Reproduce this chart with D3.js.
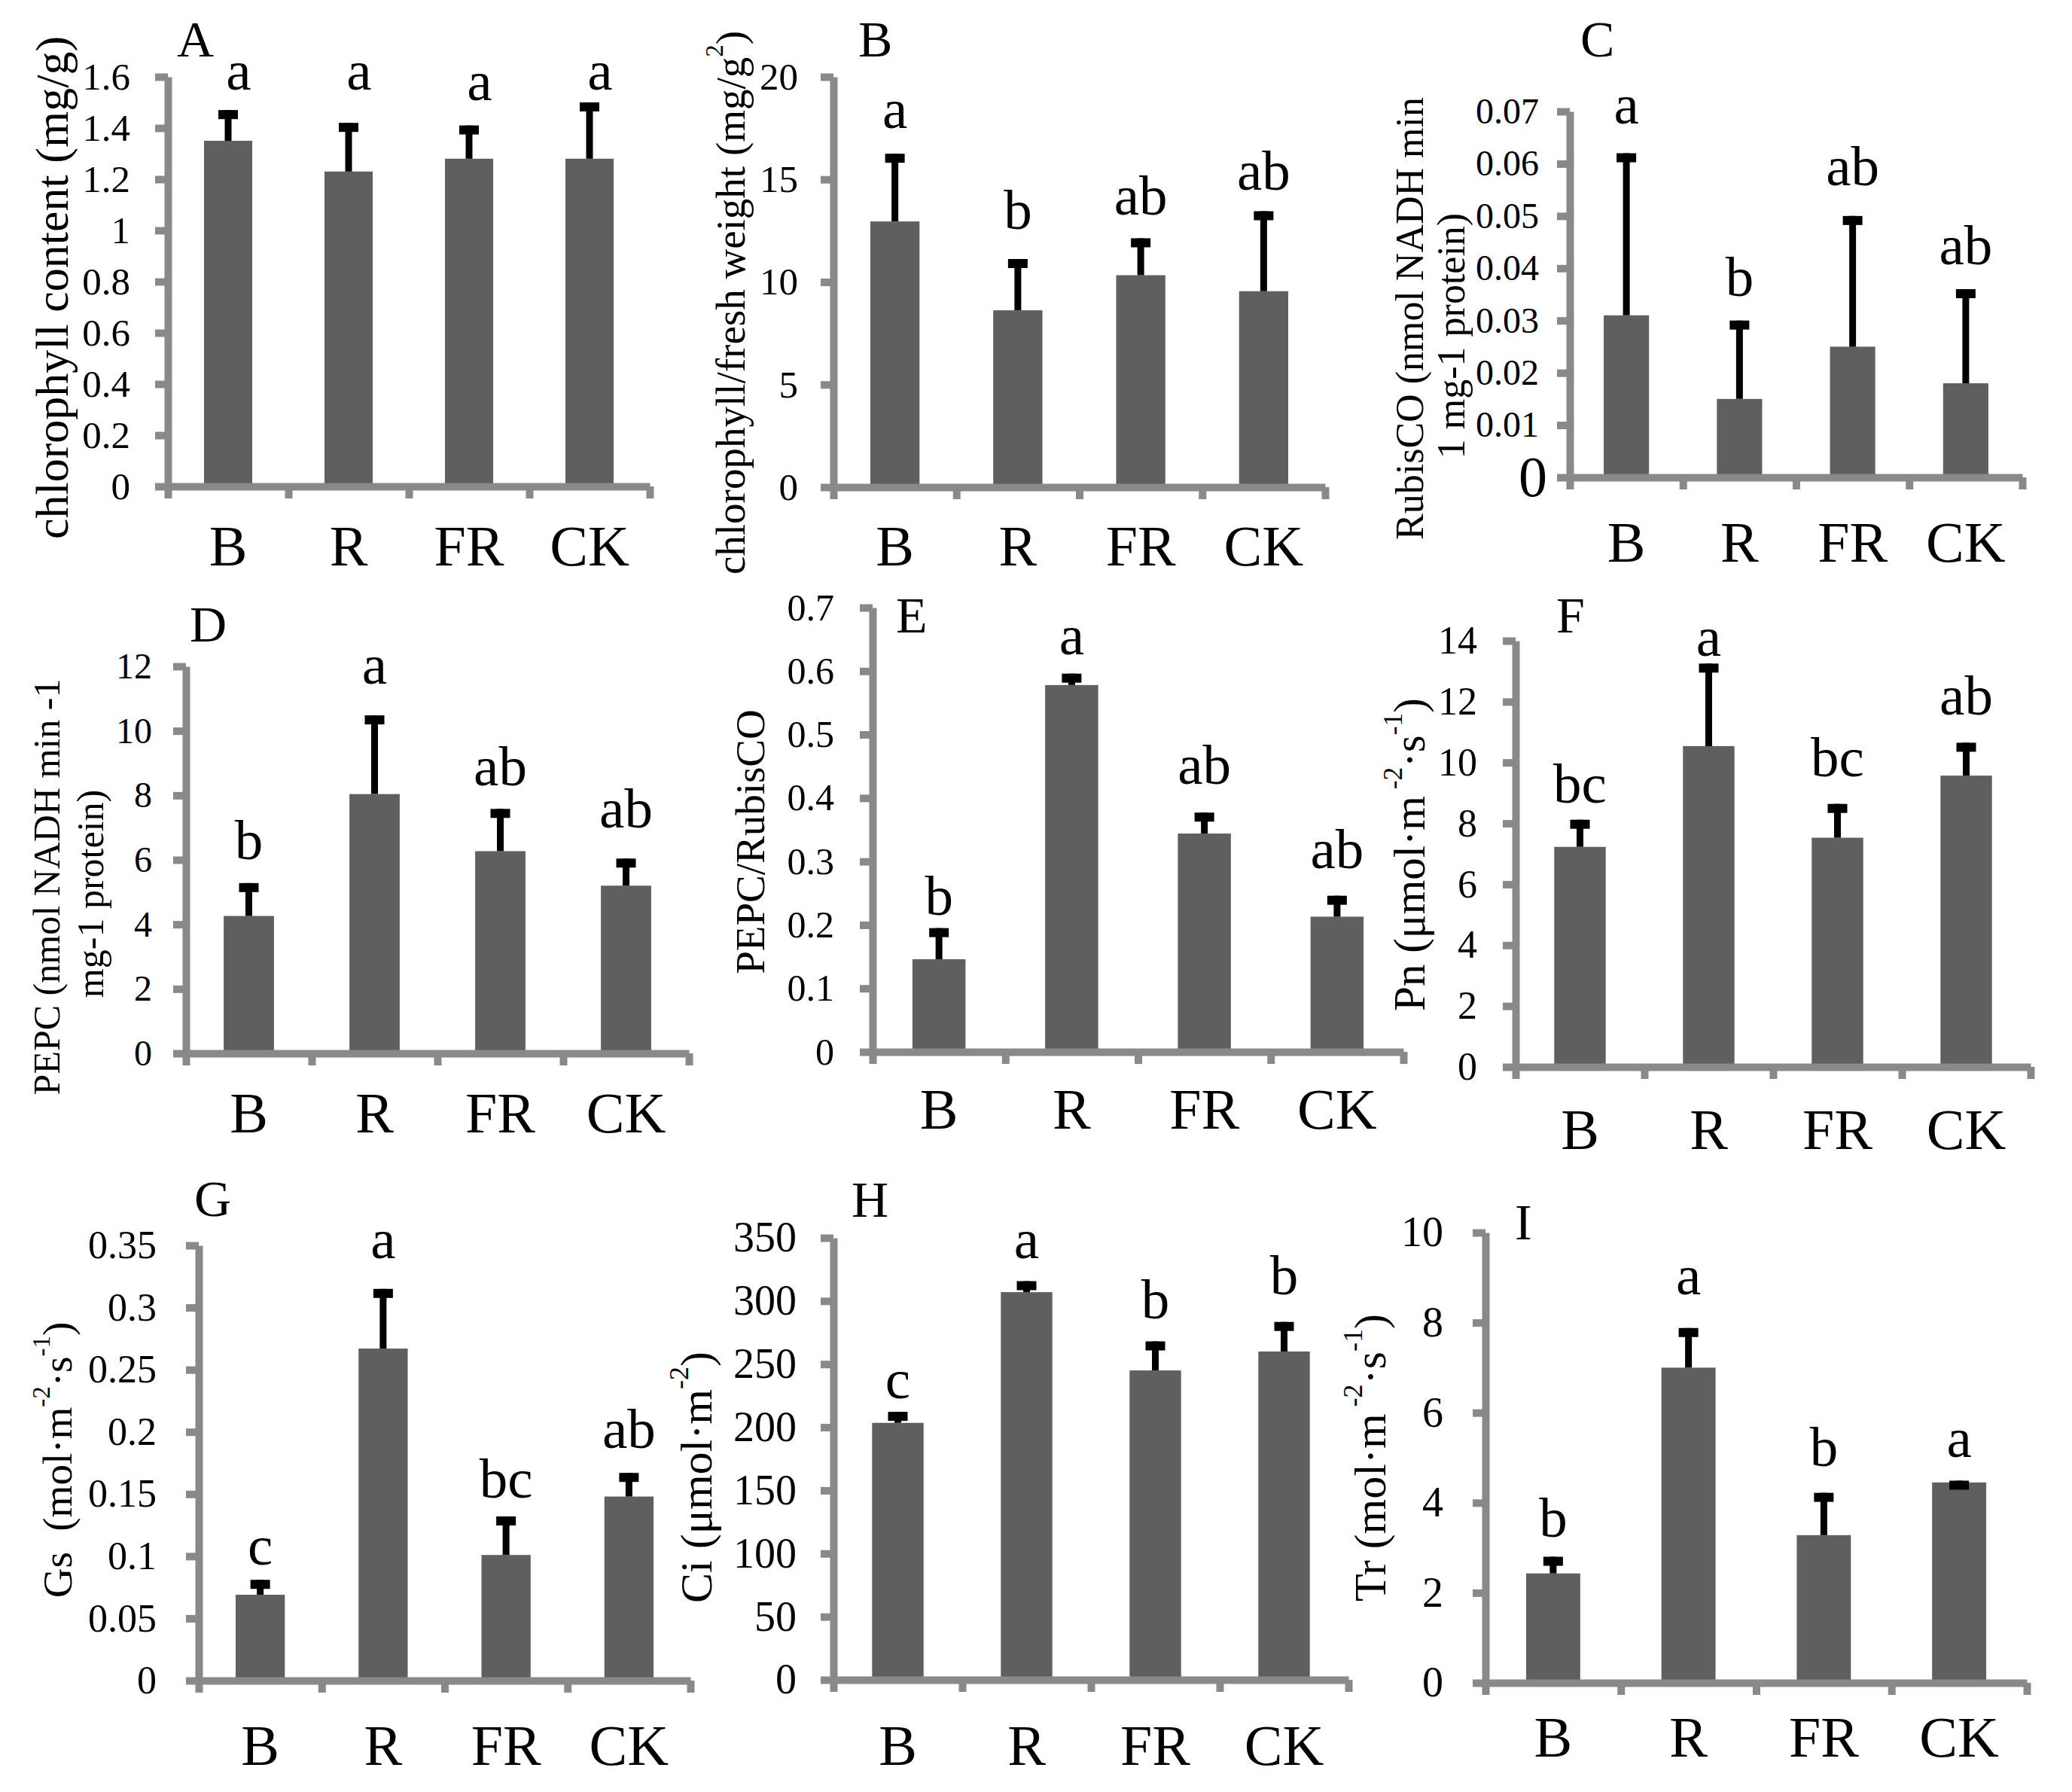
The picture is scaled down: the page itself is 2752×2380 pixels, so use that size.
<!DOCTYPE html>
<html>
<head>
<meta charset="utf-8">
<script src="https://cdn.jsdelivr.net/npm/d3@7"></script>
<style>
  body { margin: 0; background: #fff; }
</style>
</head>
<body>
<script>
var categories = ["B", "R", "FR", "CK"];

// A  chlorophyll content
var chlMean  = [1.35, 1.23, 1.28, 1.28];
var chlErr   = [0.12, 0.19, 0.13, 0.22];
var chlSig   = ["a", "a", "a", "a"];
var chlSigAt = [1.55, 1.55, 1.51, 1.55];

// B  chlorophyll / fresh weight
var fwMean  = [12.95, 8.62, 10.33, 9.55];
var fwErr   = [3.3, 2.5, 1.8, 3.9];
var fwSig   = ["a", "b", "ab", "ab"];
var fwSigAt = [17.5, 12.6, 13.3, 14.5];

// C  RubisCO
var rubMean  = [0.031, 0.015, 0.025, 0.018];
var rubErr   = [0.031, 0.015, 0.025, 0.018];
var rubSig   = ["a", "b", "ab", "ab"];
var rubSigAt = [0.0677, 0.0347, 0.0559, 0.0408];

// D  PEPC
var pepcMean  = [4.26, 8.04, 6.27, 5.2];
var pepcErr   = [1.02, 2.44, 1.31, 0.84];
var pepcSig   = ["b", "a", "ab", "ab"];
var pepcSigAt = [6.03, 11.46, 8.32, 7.0];

// E  PEPC/RubisCO
var ratioMean  = [0.146, 0.578, 0.344, 0.213];
var ratioErr   = [0.049, 0.018, 0.033, 0.033];
var ratioSig   = ["b", "a", "ab", "ab"];
var ratioSigAt = [0.216, 0.626, 0.422, 0.29];

// F  Pn
var pnMean  = [7.23, 10.54, 7.53, 9.57];
var pnErr   = [0.89, 2.71, 1.11, 1.08];
var pnSig   = ["bc", "a", "bc", "ab"];
var pnSigAt = [8.67, 13.51, 9.54, 11.57];

// G  Gs
var gsMean  = [0.069, 0.267, 0.101, 0.148];
var gsErr   = [0.012, 0.048, 0.031, 0.019];
var gsSig   = ["c", "a", "bc", "ab"];
var gsSigAt = [0.093, 0.34, 0.147, 0.187];

// H  Ci
var ciMean  = [203.5, 307, 245, 260];
var ciErr   = [8.7, 8.7, 23, 23.4];
var ciSig   = ["c", "a", "b", "b"];
var ciSigAt = [223, 334, 286, 305];

// I  Tr
var trMean  = [2.43, 7.0, 3.28, 4.45];
var trErr   = [0.37, 0.88, 0.94, 0.04];
var trSig   = ["b", "a", "b", "a"];
var trSigAt = [3.24, 8.63, 4.82, 5.01];

// axis maxima and tick steps, A..I
var yMax  = [1.6, 20, 0.07, 12, 0.7, 14, 0.35, 350, 10];
var yStep = [0.2, 5, 0.01, 2, 0.1, 2, 0.05, 50, 2];

var font = "'Liberation Serif', 'Times New Roman', serif";
var barColor = "#5f5f5f";
var axisGray = "#898989";

// layout of the 3x3 grid (pixels), title lines are [segments], sup segments flagged
var panels = [
  {tag: "A", mean: chlMean, err: chlErr, sig: chlSig, sigAt: chlSigAt,
   left: 223, right: 863, top: 102, zero: 646, tagPos: [235, 75], tickFont: 51, pad: 33, xlab: 105, sigDx: 14,
   titleFont: 62, title: [{x: 69, y: 382, seg: [["chlorophyll content (mg/g)"]]}]},
  {tag: "B", mean: fwMean, err: fwErr, sig: fwSig, sigAt: fwSigAt,
   left: 1107, right: 1760, top: 102, zero: 647, tagPos: [1140, 75], tickFont: 51, pad: 30, xlab: 104,
   titleFont: 55, title: [{x: 970, y: 402, seg: [["chlorophyll/fresh weight (mg/g"], ["2", 1], [")"]]}]},
  {tag: "C", mean: rubMean, err: rubErr, sig: rubSig, sigAt: rubSigAt,
   left: 2085, right: 2686, top: 148, zero: 634, tagPos: [2099, 75], tickFont: 48, pad: 24, xlab: 112,
   bigZero: true,
   titleFont: 52, title: [{x: 1872, y: 423, seg: [["RubisCO (nmol NADH min"]]},
                          {x: 1927, y: 446, seg: [["1 mg-1 protein)"]]}]},
  {tag: "D", mean: pepcMean, err: pepcErr, sig: pepcSig, sigAt: pepcSigAt,
   left: 247, right: 915, top: 885, zero: 1399, tagPos: [252, 852], tickFont: 48, pad: 28, xlab: 105,
   titleFont: 50, title: [{x: 62, y: 1178, seg: [["PEPC (nmol NADH min -1"]]},
                          {x: 120, y: 1187, seg: [["mg-1 protein)"]]}]},
  {tag: "E", mean: ratioMean, err: ratioErr, sig: ratioSig, sigAt: ratioSigAt,
   left: 1159, right: 1864, top: 807, zero: 1397, tagPos: [1190, 840], tickFont: 50, pad: 34, xlab: 102,
   titleFont: 55, title: [{x: 996, y: 1118, seg: [["PEPC/RubisCO"]]}]},
  {tag: "F", mean: pnMean, err: pnErr, sig: pnSig, sigAt: pnSigAt,
   left: 2013, right: 2697, top: 851, zero: 1417, tagPos: [2067, 840], tickFont: 52, pad: 34, xlab: 109,
   titleFont: 59, title: [{x: 1872, y: 1135, seg: [["Pn (\u03bcmol\u00b7m"], [" -2", 1], ["\u00b7s"], ["-1", 1], [")"]]}]},
  {tag: "G", mean: gsMean, err: gsErr, sig: gsSig, sigAt: gsSigAt,
   left: 264, right: 917, top: 1654, zero: 2232, tagPos: [258, 1615], tickFont: 52, pad: 39, xlab: 112,
   titleFont: 55, title: [{x: 76, y: 1939, seg: [["Gs\u00a0 (mol\u00b7m"], ["-2", 1], ["\u00b7s"], ["-1", 1], [")"]]}]},
  {tag: "H", mean: ciMean, err: ciErr, sig: ciSig, sigAt: ciSigAt,
   left: 1107, right: 1791, top: 1644, zero: 2231, tagPos: [1131, 1616], tickFont: 56, pad: 32, xlab: 113,
   titleFont: 60, title: [{x: 925, y: 1962, seg: [["Ci (\u03bcmol\u00b7m"], ["-2", 1], [")"]]}]},
  {tag: "I", mean: trMean, err: trErr, sig: trSig, sigAt: trSigAt,
   left: 1973, right: 2692, top: 1637, zero: 2235, tagPos: [2012, 1646], tickFont: 56, pad: 39, xlab: 98,
   titleFont: 60, title: [{x: 1820, y: 1936, seg: [["Tr (mol\u00b7m"], [" -2", 1], ["\u00b7s"], ["-1", 1], [")"]]}]}
];

var svg = d3.select("body").append("svg")
  .attr("width", 2752)
  .attr("height", 2380)
  .style("background", "#fff");

panels.forEach(function(p, i) {
  var g = svg.append("g");
  var max = yMax[i], step = yStep[i];

  var y = d3.scaleLinear().domain([0, max]).range([p.zero, p.top]);
  var x = d3.scaleBand().domain(categories)
    .range([p.left, p.right])
    .paddingInner(0.6).paddingOuter(0.3);
  // category boundaries for the x ticks
  var xb = d3.scaleLinear().domain([0, categories.length]).range([p.left, p.right]);
  var cx = function(c) { return x(c) + x.bandwidth() / 2; };

  var rows = categories.map(function(c, j) {
    return {cat: c, mean: p.mean[j], err: p.err[j], sig: p.sig[j], sigAt: p.sigAt[j]};
  });

  // bars
  g.selectAll(".bar")
    .data(rows)
    .enter().append("rect")
    .attr("x", function(d) { return x(d.cat); })
    .attr("width", x.bandwidth())
    .attr("y", function(d) { return y(d.mean); })
    .attr("height", function(d) { return p.zero - y(d.mean); })
    .attr("fill", barColor);

  // error bars
  g.selectAll(".eb")
    .data(rows)
    .enter().append("line")
    .attr("x1", function(d) { return cx(d.cat); })
    .attr("x2", function(d) { return cx(d.cat); })
    .attr("y1", function(d) { return y(d.mean); })
    .attr("y2", function(d) { return y(d.mean + d.err); })
    .attr("stroke", "#000")
    .attr("stroke-width", 9);
  g.selectAll(".cap")
    .data(rows)
    .enter().append("rect")
    .attr("x", function(d) { return cx(d.cat) - 13; })
    .attr("width", 26)
    .attr("y", function(d) { return y(d.mean + d.err); })
    .attr("height", 12)
    .attr("fill", "#000");

  // axes
  var ticks = d3.range(0, max + step / 2, step);
  var ya = g.append("g")
    .attr("transform", "translate(" + p.left + ",0)")
    .call(d3.axisLeft(y).tickValues(ticks).tickSize(17).tickSizeOuter(0).tickPadding(p.pad)
      .tickFormat(function(d) { return String(+d.toFixed(3)); }));
  var xa = g.append("g")
    .attr("transform", "translate(0," + p.zero + ")")
    .call(d3.axisBottom(xb).tickValues(d3.range(0, categories.length + 1))
      .tickSize(16).tickSizeOuter(0).tickFormat(""));

  [ya, xa].forEach(function(a) {
    a.select(".domain").attr("stroke", axisGray).attr("stroke-width", 10);
    a.selectAll(".tick line").attr("stroke", axisGray).attr("stroke-width", 10);
  });
  ya.selectAll(".tick text")
    .attr("font-family", font)
    .attr("font-size", p.tickFont)
    .attr("fill", "#000");
  if (p.bigZero) {
    ya.selectAll(".tick text").filter(function(d) { return d === 0; })
      .attr("font-size", 76)
      .attr("x", -30);
  }

  // category labels
  g.selectAll(".cat")
    .data(rows)
    .enter().append("text")
    .attr("x", function(d) { return cx(d.cat); })
    .attr("y", p.zero + p.xlab)
    .attr("text-anchor", "middle")
    .attr("font-family", font)
    .attr("font-size", 76)
    .text(function(d) { return d.cat; });

  // significance letters
  g.selectAll(".sig")
    .data(rows)
    .enter().append("text")
    .attr("x", function(d) { return cx(d.cat) + (p.sigDx || 0); })
    .attr("y", function(d) { return y(d.sigAt); })
    .attr("text-anchor", "middle")
    .attr("font-family", font)
    .attr("font-size", 75)
    .text(function(d) { return d.sig; });

  // panel tag
  g.append("text")
    .attr("x", p.tagPos[0])
    .attr("y", p.tagPos[1])
    .attr("font-family", font)
    .attr("font-size", 68)
    .text(p.tag);

  // y title (rotated, possibly 2 lines, with superscripts)
  p.title.forEach(function(line) {
    var t = g.append("text")
      .attr("transform", "translate(" + line.x + "," + line.y + ") rotate(-90)")
      .attr("text-anchor", "middle")
      .attr("dominant-baseline", "central")
      .attr("font-family", font)
      .attr("font-size", p.titleFont);
    var up = 0;
    line.seg.forEach(function(s) {
      var sp = t.append("tspan").text(s[0]);
      if (s[1]) {
        sp.attr("font-size", p.titleFont * 0.6).attr("dy", -p.titleFont * 0.38);
        up = p.titleFont * 0.38;
      } else if (up) {
        sp.attr("dy", up);
        up = 0;
      }
    });
  });
});
</script>
</body>
</html>
